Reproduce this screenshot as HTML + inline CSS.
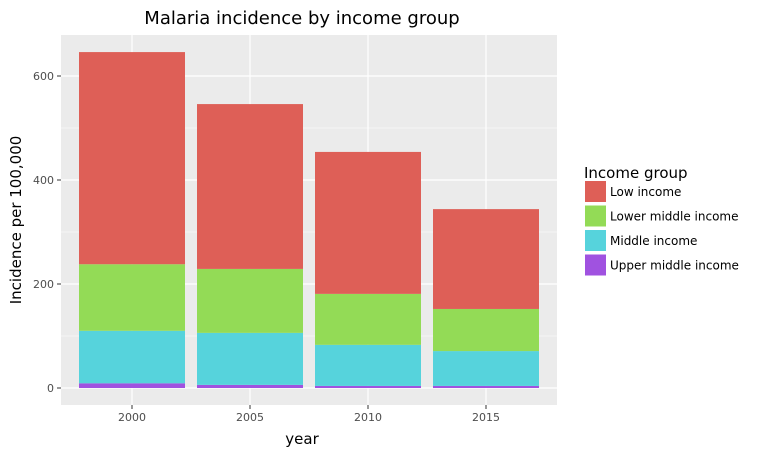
<!DOCTYPE html>
<html><head><meta charset="utf-8"><style>
body{margin:0;background:#fff;}
svg{font-family:"DejaVu Sans","Liberation Sans",sans-serif;}
</style></head><body>
<svg id="chart" width="768" height="456" xmlns="http://www.w3.org/2000/svg">
<rect x="61" y="35" width="496" height="370" fill="#ebebeb"/>
<g id="grid"></g><g id="bars"></g><g id="axes"></g>
<text x="302" y="24" text-anchor="middle" font-size="18" fill="#000">Malaria incidence by income group</text>
<text x="302" y="444" text-anchor="middle" font-size="15" fill="#000">year</text>
<text transform="translate(21,220) rotate(-90)" text-anchor="middle" font-size="15" fill="#000">Incidence per 100,000</text>
<g id="legend"><text x="584" y="178" font-size="15" fill="#000">Income group</text></g>
</svg>
<script>
const years=["2000","2005","2010","2015"];
const upperMiddle=[9,6,4,4];
const middle=[101,100,79,67];
const lowerMiddle=[128,123,98,81];
const low=[408,317,273,192];
const yTicks=[0,200,400,600];
const groups=["Upper middle income","Middle income","Lower middle income","Low income"];
const colors=["#a052e0","#56d3dc","#93db56","#de5f57"];
const NS="http://www.w3.org/2000/svg";
function yS(v){return 388-v*0.52;}
function xS(i){return 132+i*118;}
function mk(tag,attrs,parent){const e=document.createElementNS(NS,tag);for(const k in attrs)e.setAttribute(k,attrs[k]);document.getElementById(parent).appendChild(e);return e;}
for(let i=0;i<yTicks.length-1;i++){const m=(yTicks[i]+yTicks[i+1])/2;const l=mk('line',{x1:61,x2:557,y1:yS(m),y2:yS(m),stroke:'#fff','stroke-width':0.6},'grid');}
yTicks.forEach(t=>{const l=mk('line',{x1:61,x2:557,y1:yS(t),y2:yS(t),stroke:'#fff','stroke-width':1.2},'grid');
const tk=mk('line',{x1:57,x2:61,y1:yS(t),y2:yS(t),stroke:'#333'},'axes');
const tx=mk('text',{x:54,y:yS(t)+4,'text-anchor':'end','font-size':11,fill:'#4d4d4d'},'axes');tx.textContent=t;});
years.forEach((y,i)=>{const l=mk('line',{x1:xS(i),x2:xS(i),y1:35,y2:405,stroke:'#fff','stroke-width':1.2},'grid');
const tk=mk('line',{x1:xS(i),x2:xS(i),y1:405,y2:409,stroke:'#333'},'axes');
const tx=mk('text',{x:xS(i),y:421,'text-anchor':'middle','font-size':11,fill:'#4d4d4d'},'axes');tx.textContent=y;
const series=[upperMiddle,middle,lowerMiddle,low];let base=0;
series.forEach((s,k)=>{const top=base+s[i];const r=mk('rect',{x:xS(i)-53,width:106,y:yS(top),height:yS(base)-yS(top),fill:colors[k]},'bars');base=top;});});
const order=[3,2,1,0];
order.forEach((k,j)=>{const yy=181+j*24.5;const r=mk('rect',{x:585,y:yy,width:21,height:21,fill:colors[k]},'legend');
const t=mk('text',{x:610,y:yy+15,'font-size':12,fill:'#000'},'legend');t.textContent=groups[k];});
</script>
</body></html>
